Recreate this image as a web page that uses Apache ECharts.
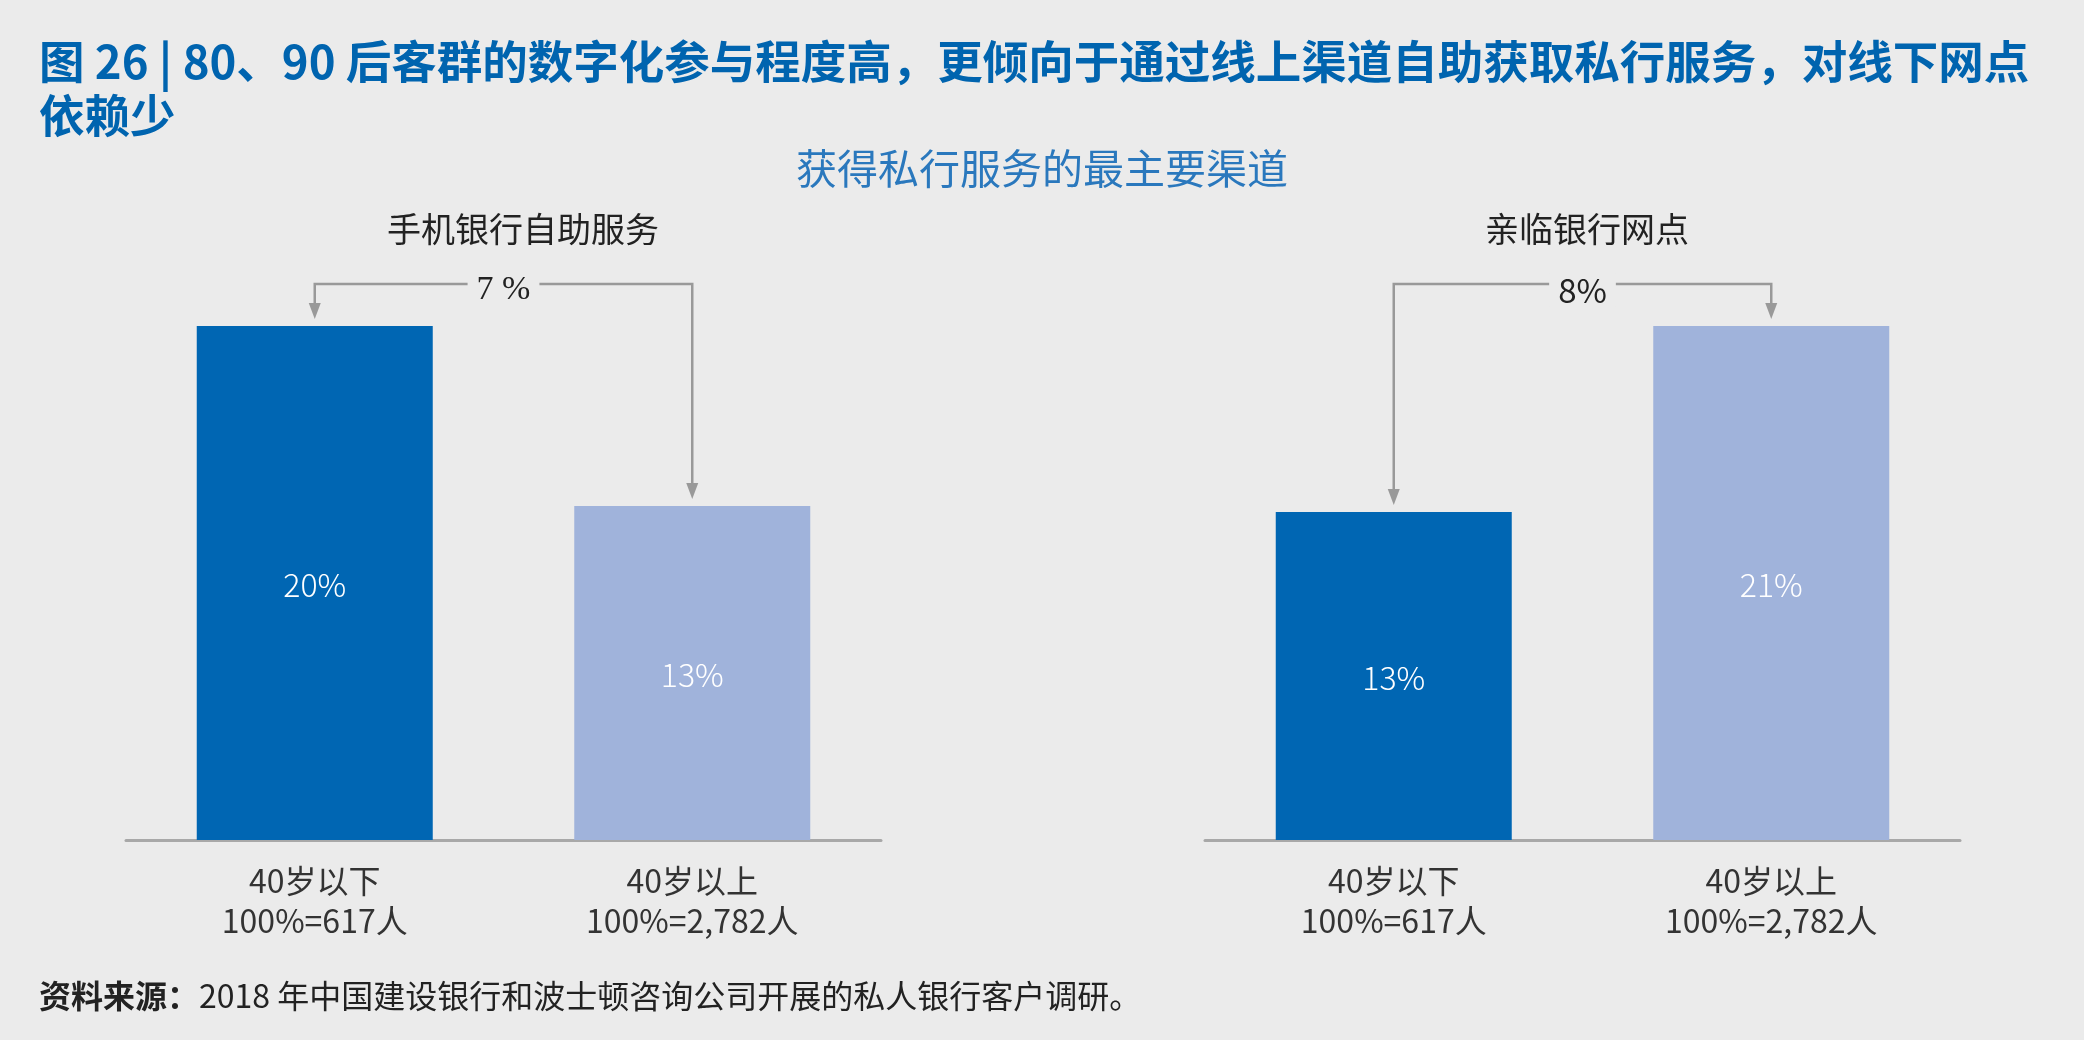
<!DOCTYPE html>
<html>
<head>
<meta charset="utf-8">
<script src="https://cdn.jsdelivr.net/npm/echarts@6/dist/echarts.min.js"></script>
<style>
html,body{margin:0;padding:0;background:#ebebeb;}
#chart{width:2084px;height:1040px;}
</style>
</head>
<body>
<div id="chart"></div>
<script>
// ---- data ----
var titleText = '图 26 | 80、90 后客群的数字化参与程度高，更倾向于通过线上渠道自助获取私行服务，对线下网点\n依赖少';
var subtitleText = '获得私行服务的最主要渠道';
var panelTitles = ['手机银行自助服务', '亲临银行网点'];
var categories = ['40岁以下', '40岁以上'];
var sampleSizes = ['100%=617人', '100%=2,782人'];
var mobileValues = [20, 13];
var branchValues = [13.4, 21];
var diffLabels = ['7 %', '8%'];
var sourceBold = '资料来源：';
var sourceText = '2018 年中国建设银行和波士顿咨询公司开展的私人银行客户调研。';

var DARK = '#0066b3', LIGHT = '#a0b3db', BG = '#ebebeb', GRAY = '#999999';
var CJK = '"Noto Sans CJK SC", "Noto Sans", sans-serif';

var chart = echarts.init(document.getElementById('chart'));

function barSeries(idx, values) {
  return {
    type: 'bar',
    xAxisIndex: idx, yAxisIndex: idx,
    barWidth: 236,
    data: values.map(function (v, i) {
      return { value: v, itemStyle: { color: i === 0 ? DARK : LIGHT } };
    }),
    label: {
      show: true, position: 'inside', color: '#ffffff', offset: [0, 2],
      fontFamily: CJK, fontSize: 32, fontWeight: 300,
      formatter: function (p) { return Math.round(p.value) + '%'; }
    },
    silent: true
  };
}

function bracketSeries(idx, values, label, serif) {
  return {
    type: 'custom',
    xAxisIndex: idx, yAxisIndex: idx,
    silent: true, z: 5,
    data: [[0, values[0], 1, values[1]]],
    renderItem: function (params, api) {
      var p0 = api.coord([0, api.value(1)]);
      var p1 = api.coord([1, api.value(3)]);
      var topY = Math.min(p0[1], p1[1]) - 42;
      var gap = 7, ah = 16, aw = 6;
      var t0 = p0[1] - gap, t1 = p1[1] - gap;
      var ls = { stroke: GRAY, lineWidth: 2.5, fill: null };
      return {
        type: 'group',
        children: [
          { type: 'polyline', shape: { points: [[p0[0], t0 - ah + 1], [p0[0], topY], [p1[0], topY], [p1[0], t1 - ah + 1]] }, style: ls },
          { type: 'polygon', shape: { points: [[p0[0] - aw, t0 - ah], [p0[0] + aw, t0 - ah], [p0[0], t0]] }, style: { fill: GRAY } },
          { type: 'polygon', shape: { points: [[p1[0] - aw, t1 - ah], [p1[0] + aw, t1 - ah], [p1[0], t1]] }, style: { fill: GRAY } },
          { type: 'text', x: (p0[0] + p1[0]) / 2, y: topY + 6, style: {
              text: label, align: 'center', verticalAlign: 'middle',
              fontSize: serif ? 34 : 33, fontFamily: serif ? '"Liberation Serif", serif' : CJK,
              fill: '#222222', backgroundColor: BG, padding: [0, 9]
          } }
        ]
      };
    }
  };
}

function xAxisFor(idx) {
  return {
    type: 'category', gridIndex: idx, data: categories,
    axisLine: { show: true, lineStyle: { color: '#a8a8a8', width: 3 } },
    axisTick: { show: false },
    axisLabel: {
      margin: 21, interval: 0,
      formatter: function (v, i) { return v + '\n' + sampleSizes[i]; },
      fontFamily: CJK, fontSize: 32, lineHeight: 40, color: '#333333'
    }
  };
}

function yAxisFor(idx, values) {
  return { type: 'value', gridIndex: idx, min: 0, max: Math.max.apply(null, values), show: false, splitLine: { show: false } };
}

chart.setOption({
  backgroundColor: BG,
  animation: false,
  title: [
    { text: titleText, left: 34, top: 30,
      textStyle: { fontFamily: CJK, fontSize: 45.5, fontWeight: 'bold', color: '#0064af', lineHeight: 54 } },
    { text: subtitleText, left: 'center', top: 143,
      textStyle: { fontFamily: CJK, fontSize: 41, fontWeight: 'normal', color: '#2a78bd' } },
    { text: panelTitles[0], left: 518, textAlign: 'center', top: 207,
      textStyle: { fontFamily: CJK, fontSize: 34, fontWeight: 'normal', color: '#222222' } },
    { text: panelTitles[1], left: 1582, textAlign: 'center', top: 207,
      textStyle: { fontFamily: CJK, fontSize: 34, fontWeight: 'normal', color: '#222222' } },
    { text: '{b|' + sourceBold + '}{n|' + sourceText + '}', left: 34, top: 975,
      textStyle: { rich: {
        b: { fontFamily: CJK, fontSize: 32, fontWeight: 'bold', color: '#222222' },
        n: { fontFamily: CJK, fontSize: 32, fontWeight: 'normal', color: '#222222' }
      } } }
  ],
  grid: [
    { left: 126, width: 755, top: 326, bottom: 200 },
    { left: 1205, width: 755, top: 326, bottom: 200 }
  ],
  xAxis: [xAxisFor(0), xAxisFor(1)],
  yAxis: [yAxisFor(0, mobileValues), yAxisFor(1, branchValues)],
  series: [
    barSeries(0, mobileValues),
    barSeries(1, branchValues),
    bracketSeries(0, mobileValues, diffLabels[0], true),
    bracketSeries(1, branchValues, diffLabels[1], false)
  ]
});
</script>
</body>
</html>
